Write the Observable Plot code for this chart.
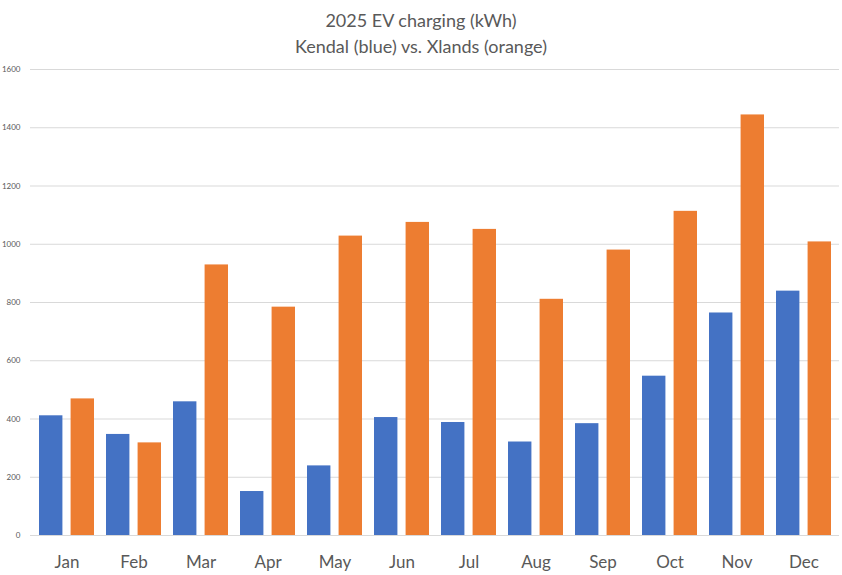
<!DOCTYPE html>
<html>
<head>
<meta charset="utf-8">
<script src="https://cdn.jsdelivr.net/npm/d3@7"></script>
<script src="https://cdn.jsdelivr.net/npm/@observablehq/plot@0.6"></script>
<style>
  html, body { margin: 0; padding: 0; background: #fff; }
  #wrap { width: 842px; height: 575px; overflow: hidden; font-family: Lato, "Open Sans", sans-serif; }
  #title { height: 53px; padding-top: 7px; text-align: center; color: #595959; font-size: 18px; line-height: 26px; }
  svg { display: block; }
</style>
</head>
<body>
<div id="wrap">
  <div id="title">2025 EV charging (kWh)<br>Kendal (blue) vs. Xlands (orange)</div>
  <div id="chart"></div>
</div>
<script>
const months = ["Jan","Feb","Mar","Apr","May","Jun","Jul","Aug","Sep","Oct","Nov","Dec"];
const seriesNames = ["Kendal","Xlands"];
const kendal = [411, 347, 459, 151, 239, 405, 388, 321, 384, 547, 764, 839];
const xlands = [469, 318, 929, 784, 1028, 1075, 1051, 811, 980, 1113, 1444, 1008];
const yTicks = [0, 200, 400, 600, 800, 1000, 1200, 1400, 1600];
const colors = ["#4472C4", "#ED7D31"];

const kendalData = months.map((m, i) => ({month: m, series: seriesNames[0], value: kendal[i]}));
const xlandsData = months.map((m, i) => ({month: m, series: seriesNames[1], value: xlands[i]}));

const W = 842, ML = 30, MR = 3;
const padIn = 0.18, padOut = 0.09;
const step = (W - ML - MR) / (months.length - padIn + 2 * padOut);
const bw = step * (1 - padIn);
const barW = bw / 1.75 * 0.75; // two bars, gap = 1/3 of bar width
const inset = bw - barW;

const chart = Plot.plot({
  width: W,
  height: 515,
  marginTop: 9,
  marginBottom: 40,
  marginLeft: ML,
  marginRight: MR,
  style: {fontFamily: "Lato, 'Open Sans', sans-serif", color: "#595959", background: "#fff"},
  x: {domain: months, paddingInner: padIn, paddingOuter: padOut, label: null},
  y: {domain: [0, 1600], label: null},
  color: {domain: seriesNames, range: colors},
  marks: [
    Plot.gridY(yTicks, {stroke: "#d9d9d9", strokeOpacity: 1, strokeWidth: 1}),
    Plot.axisY(yTicks, {tickSize: 0, tickPadding: 10, fontSize: 8, fill: "#595959", label: null, tickFormat: d3.format("d")}),
    Plot.axisX({tickSize: 0, tickPadding: 20, fontSize: 17, fill: "#595959", label: null}),
    Plot.barY(kendalData, {x: "month", y: "value", fill: "series", insetRight: inset}),
    Plot.barY(xlandsData, {x: "month", y: "value", fill: "series", insetLeft: inset})
  ]
});
document.getElementById("chart").appendChild(chart);
</script>
</body>
</html>
